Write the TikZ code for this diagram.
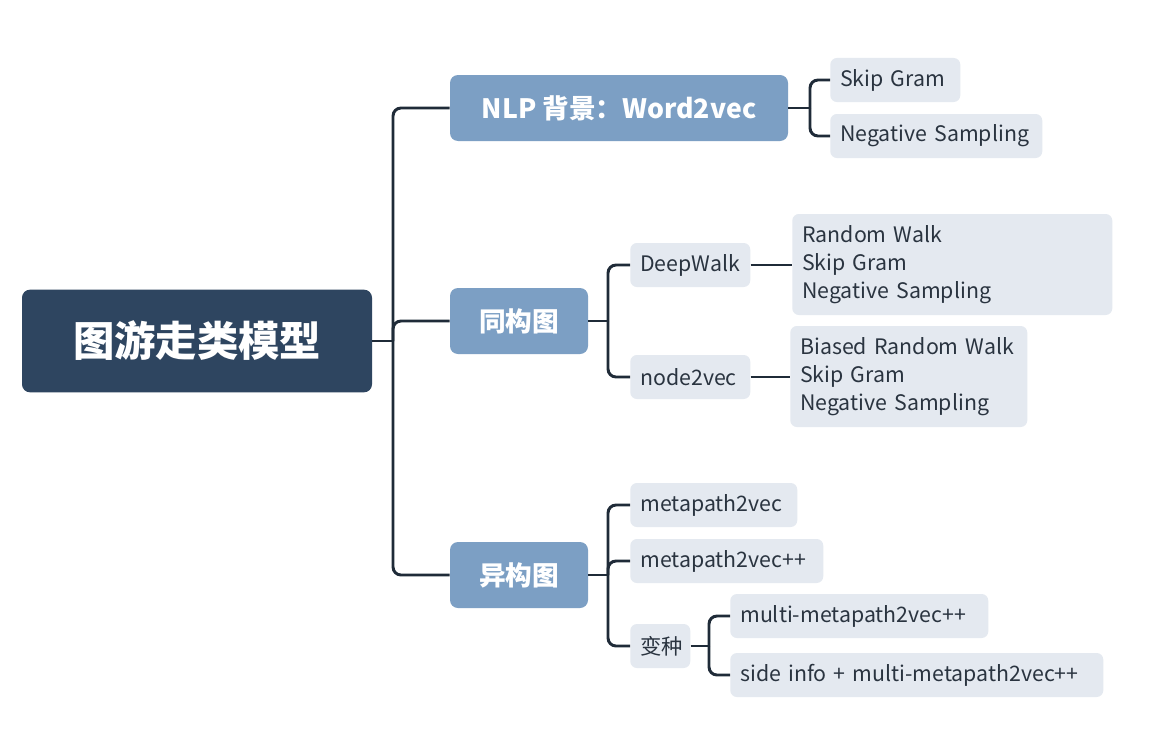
\documentclass[tikz,border=0pt]{standalone}
\usepackage{fontspec}
\setmainfont{Noto Sans CJK SC}
\usetikzlibrary{positioning}
\definecolor{rootblue}{HTML}{2E4560}
\definecolor{midblue}{HTML}{7C9FC4}
\definecolor{leafgrey}{HTML}{E4E9F0}
\definecolor{linedark}{HTML}{1F2B38}
\definecolor{leaftext}{HTML}{2A3440}
\tikzset{
  rootbox/.style={fill=rootblue, text=white, rounded corners=6pt, inner sep=0pt,
    font=\fontsize{31}{31}\selectfont\bfseries},
  midbox/.style={fill=midblue, text=white, rounded corners=6pt, inner sep=0pt,
    minimum height=49.5pt, font=\fontsize{20}{20}\selectfont\bfseries},
  leafbox/.style={fill=leafgrey, text=leaftext, rounded corners=5pt, anchor=west,
    inner xsep=7.5pt, inner ysep=0pt, minimum height=33pt, align=left,
    font=\fontsize{16}{21}\selectfont},
  link/.style={draw=linedark, line width=2.2pt, rounded corners=6pt}
}
\begin{document}
\begin{tikzpicture}[x=0.75pt, y=-0.75pt]
	\useasboundingbox [fill=white] (0,0) rectangle (1169,749);
	% root and main branches
	\node [rootbox, minimum width=262.5pt, minimum height=77pt] (root) at (197,341) {图游走类模型};
	\node [midbox, minimum width=253.5pt] (nlp) at (619,108) {NLP 背景：Word2vec};
	\node [midbox, minimum width=103.5pt] (homo) at (519,321) {同构图};
	\node [midbox, minimum width=103.5pt] (hetero) at (519,575) {异构图};
	% NLP leaves
	\node [leafbox, text width=82.5pt] (sg) at (830,80) {Skip Gram};
	\node [leafbox, text width=144pt] (ns) at (830,136) {Negative Sampling};
	% homogeneous graph
	\node [leafbox, text width=75pt] (deepwalk) at (630,265) {DeepWalk};
	\node [leafbox, text width=75pt] (node2vec) at (630,377) {node2vec};
	\node [leafbox, text width=225pt, minimum height=75.75pt] (dwsteps) at (792,264.5)
		{Random Walk\\Skip Gram\\Negative Sampling};
	\node [leafbox, text width=162.75pt, minimum height=75.75pt] (nvsteps) at (790,376.5)
		{Biased Random Walk\\Skip Gram\\Negative Sampling};
	% heterogeneous graph
	\node [leafbox, text width=110.25pt] (mp) at (630,505) {metapath2vec};
	\node [leafbox, text width=129.75pt] (mpp) at (630,561) {metapath2vec++};
	\node [leafbox, text width=30pt] (variant) at (630,646) {变种};
	\node [leafbox, text width=178.5pt] (multi) at (730,616) {multi-metapath2vec++};
	\node [leafbox, text width=264.75pt] (side) at (730,675) {side info + multi-metapath2vec++};
	% forks
	\coordinate (rootfork) at (393,341);
	\coordinate (nlpfork) at (810,108);
	\coordinate (homofork) at (608,321);
	\coordinate (heterofork) at (608,575);
	\coordinate (variantfork) at (709,646);
	% connectors
	\draw [link] (root.east) -- (rootfork);
	\draw [link] (rootfork) |- (nlp.west);
	\draw [link] (rootfork) |- (homo.west);
	\draw [link] (rootfork) |- (hetero.west);
	\draw [link] (nlp.east) -- (nlpfork);
	\draw [link] (nlpfork) |- (sg.west);
	\draw [link] (nlpfork) |- (ns.west);
	\draw [link] (homo.east) -- (homofork);
	\draw [link] (homofork) |- (deepwalk.west);
	\draw [link] (homofork) |- (node2vec.west);
	\draw [link] (deepwalk.east) -- (dwsteps.west |- deepwalk.east);
	\draw [link] (node2vec.east) -- (nvsteps.west |- node2vec.east);
	\draw [link] (hetero.east) -- (heterofork);
	\draw [link] (heterofork) |- (mp.west);
	\draw [link] (heterofork) |- (mpp.west);
	\draw [link] (heterofork) |- (variant.west);
	\draw [link] (variant.east) -- (variantfork);
	\draw [link] (variantfork) |- (multi.west);
	\draw [link] (variantfork) |- (side.west);
\end{tikzpicture}
\end{document}
